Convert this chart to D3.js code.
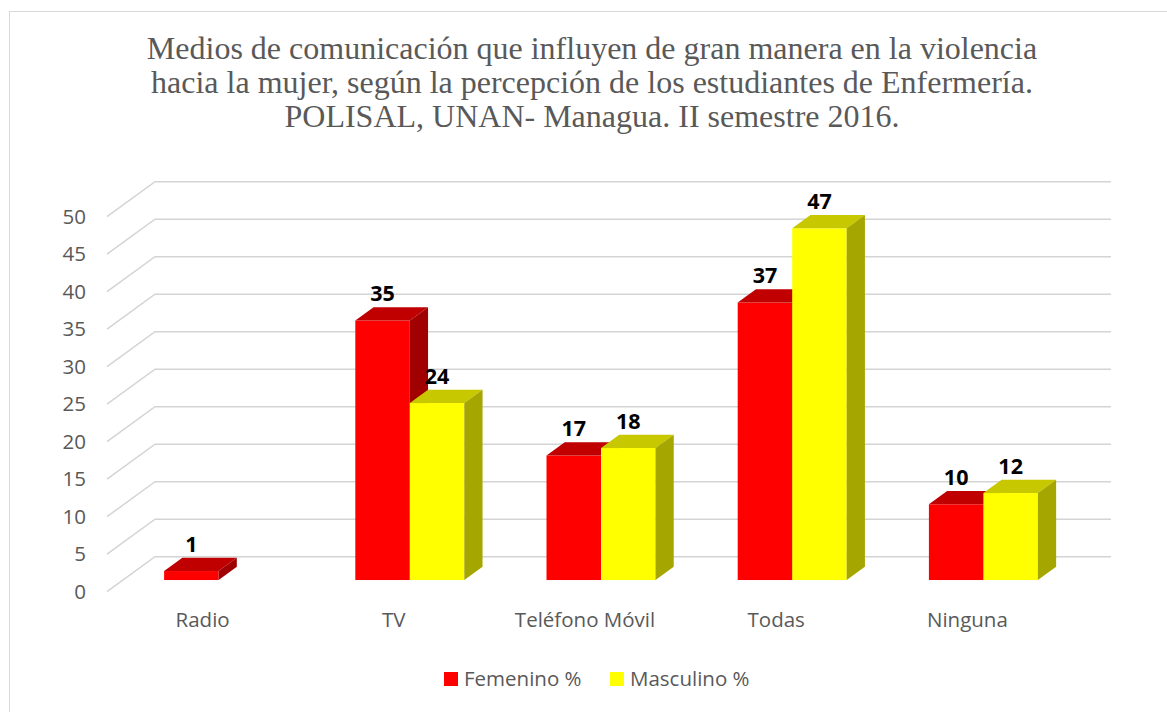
<!DOCTYPE html>
<html>
<head>
<meta charset="utf-8">
<script src="https://cdn.jsdelivr.net/npm/d3@7"></script>
<style>
  body { margin: 0; background: #fff; }
  svg { display: block; }
</style>
</head>
<body>
<svg></svg>
<script>
var categories = ["Radio", "TV", "Teléfono Móvil", "Todas", "Ninguna"];
var seriesNames = ["Femenino %", "Masculino %"];
var femenino = [1.2, 34.6, 16.6, 37.0, 10.1];
var masculino = [0, 23.6, 17.6, 46.9, 11.6];
var yTicks = [0, 5, 10, 15, 20, 25, 30, 35, 40, 45, 50];
var titleLines = [
  "Medios de comunicación que influyen de gran manera en la violencia",
  "hacia la mujer, según la percepción de los estudiantes de Enfermería.",
  "POLISAL, UNAN- Managua. II semestre 2016."
];

var svgWidth = 1167, svgHeight = 712;
var colors = {
  front: ["#ff0000", "#ffff00"],
  top: ["#c00000", "#c8c800"],
  side: ["#a00000", "#a6a600"]
};

// floor depth vector (oblique 3d)
var depthX = 48, depthY = -35;
var barStart = 1 / 3, barDepth = 0.38;

var svg = d3.select("svg")
    .attr("width", svgWidth)
    .attr("height", svgHeight);

// chart border
svg.append("rect")
  .attr("x", 9.5).attr("y", 11.5)
  .attr("width", 1200).attr("height", 800)
  .attr("fill", "none")
  .attr("stroke", "#d9d9d9")
  .attr("stroke-width", 1);

// title
svg.append("g").selectAll("text")
  .data(titleLines)
  .enter()
  .append("text")
  .attr("x", 592)
  .attr("y", (d, i) => 58.5 + i * 34)
  .attr("text-anchor", "middle")
  .attr("font-family", "'Liberation Serif', 'Times New Roman', serif")
  .attr("font-size", 32)
  .attr("fill", "#595959")
  .text(d => d);

var x = d3.scaleBand()
  .domain(categories)
  .range([107, 1063])
  .paddingInner(0.43)
  .paddingOuter(0.215);

var xs = d3.scaleBand()
  .domain(seriesNames)
  .range([0, x.bandwidth()]);

var y = d3.scaleLinear()
  .domain([0, 50])
  .range([591.7, 216.7]);

// gridlines: front -> back -> across the back wall
svg.append("g").selectAll("path")
  .data(yTicks)
  .enter()
  .append("path")
  .attr("d", t => {
    var yy = y(t);
    return "M" + x.range()[0] + "," + yy +
      "L" + (x.range()[0] + depthX) + "," + (yy + depthY) +
      "L" + (x.range()[1] + depthX) + "," + (yy + depthY);
  })
  .attr("fill", "none")
  .attr("stroke", "#d4d4d4")
  .attr("stroke-width", 1.5);

// y axis labels
var yAxis = svg.append("g")
  .attr("transform", "translate(" + x.range()[0] + ",0)")
  .call(d3.axisLeft(y).tickValues(yTicks).tickSize(0).tickPadding(21));
yAxis.select(".domain").remove();
yAxis.selectAll("text")
  .attr("font-family", "'Open Sans', sans-serif")
  .attr("font-size", 20.5)
  .attr("fill", "#595959");

// bars
var bars = [];
categories.forEach((c, i) => {
  [femenino[i], masculino[i]].forEach((v, s) => {
    bars.push({ cat: c, s: s, name: seriesNames[s], value: v });
  });
});

var bx = d => x(d.cat) + xs(d.name) + barStart * depthX;
var by = v => y(v) + barStart * depthY;
var dX = barDepth * depthX, dY = barDepth * depthY;

var barG = svg.append("g").selectAll("g")
  .data(bars.filter(d => d.value > 0))
  .enter()
  .append("g");

barG.append("rect")
  .attr("x", d => bx(d))
  .attr("y", d => by(d.value))
  .attr("width", xs.bandwidth())
  .attr("height", d => by(0) - by(d.value))
  .attr("fill", d => colors.front[d.s]);

barG.append("path")
  .attr("d", d => {
    var x0 = bx(d), x1 = x0 + xs.bandwidth(), yt = by(d.value);
    return "M" + x0 + "," + yt + "L" + (x0 + dX) + "," + (yt + dY) +
      "L" + (x1 + dX) + "," + (yt + dY) + "L" + x1 + "," + yt + "Z";
  })
  .attr("fill", d => colors.top[d.s]);

barG.append("path")
  .attr("d", d => {
    var x1 = bx(d) + xs.bandwidth(), yt = by(d.value), yb = by(0);
    return "M" + x1 + "," + yt + "L" + (x1 + dX) + "," + (yt + dY) +
      "L" + (x1 + dX) + "," + (yb + dY) + "L" + x1 + "," + yb + "Z";
  })
  .attr("fill", d => colors.side[d.s]);

// data labels
barG.append("text")
  .attr("x", d => bx(d) + xs.bandwidth() / 2)
  .attr("y", d => by(d.value) + dY - 6)
  .attr("text-anchor", "middle")
  .attr("font-family", "'Open Sans', sans-serif")
  .attr("font-weight", "bold")
  .attr("font-size", 21.5)
  .attr("fill", "#000")
  .text(d => d3.format(".0f")(d.value));

// category labels
svg.append("g").selectAll("text")
  .data(categories)
  .enter()
  .append("text")
  .attr("x", d => x(d) + x.bandwidth() / 2)
  .attr("y", 627)
  .attr("text-anchor", "middle")
  .attr("font-family", "'Open Sans', sans-serif")
  .attr("font-size", 20.5)
  .attr("fill", "#595959")
  .text(d => d);

// legend
var legend = svg.append("g").selectAll("g")
  .data(seriesNames)
  .enter()
  .append("g")
  .attr("transform", (d, i) => "translate(" + (444 + i * 166) + ",672)");

legend.append("rect")
  .attr("width", 14).attr("height", 14)
  .attr("fill", (d, i) => colors.front[i]);

legend.append("text")
  .attr("x", 20).attr("y", 14)
  .attr("font-family", "'Open Sans', sans-serif")
  .attr("font-size", 20.5)
  .attr("fill", "#595959")
  .text(d => d);
</script>
</body>
</html>
